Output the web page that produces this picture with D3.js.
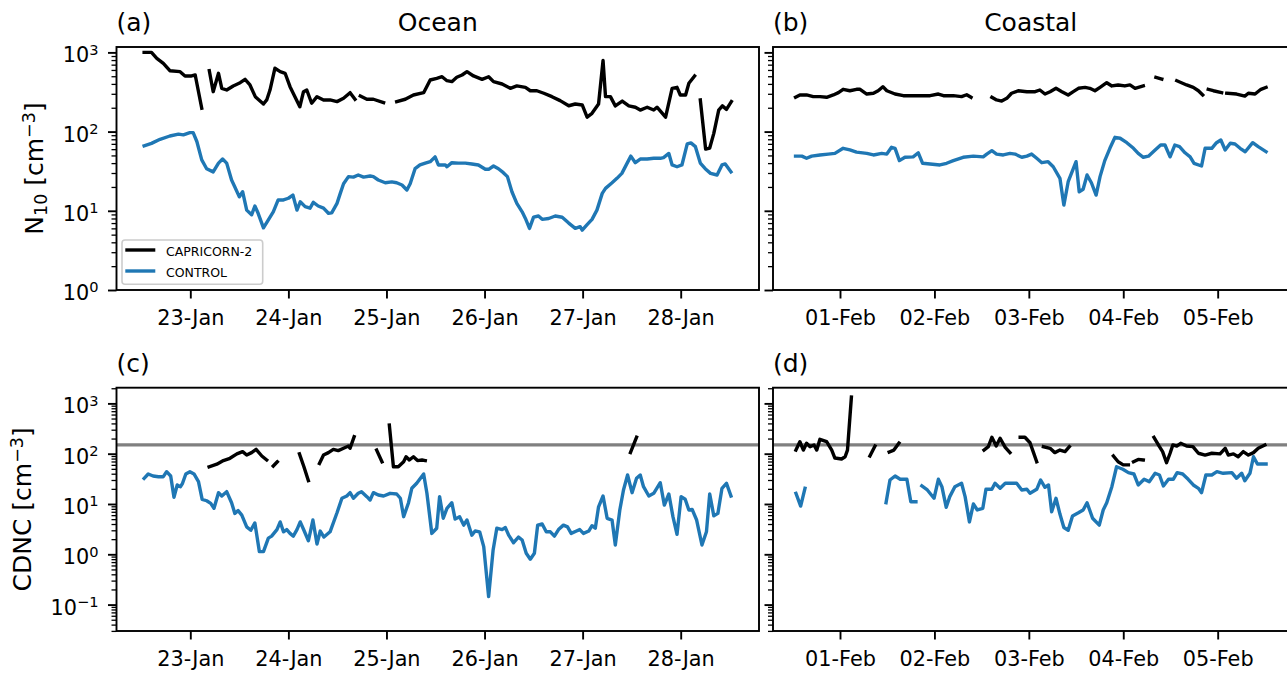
<!DOCTYPE html>
<html>
<head>
<meta charset="utf-8">
<script src="https://cdn.jsdelivr.net/npm/d3@7"></script>
<style>
  body { margin: 0; background: #fff; }
</style>
</head>
<body>
<div id="chart"></div>
<script>
// Time axis: hours after the start day (ocean leg from 22-Jan, coastal leg from 31-Jan)
const oceanStart = Date.UTC(2018, 0, 22);
const coastalStart = Date.UTC(2018, 0, 31);

// Series as [hour, value]; null marks a gap in the record
const oceanN10Capricorn = [[12.7,1000],[14.5,1000],[15.8,842],[17.4,728],[19.0,587],[21.5,571],[22.7,504],[24.3,504],[25.2,518],[26.8,197],[27.8,null],[28.65,587],[29.6,319],[30.9,545],[31.7,352],[32.9,335],[34.5,377],[36.2,414],[37.4,457],[38.6,388],[39.9,276],[41.9,223],[42.7,251],[43.5,335],[44.7,630],[46.0,571],[47.2,545],[48.4,369],[49.6,276],[50.8,206],[51.7,319],[52.5,335],[53.7,228],[55.0,276],[56.6,251],[58.2,251],[59.9,239],[61.5,263],[63.1,310],[64.3,256],[65.0,null],[65.6,281],[67.2,256],[68.8,256],[71.3,232],[72.5,null],[74.5,239],[76.6,256],[78.6,290],[81.1,310],[82.7,448],[84.3,471],[85.6,493],[86.8,439],[88.0,427],[89.2,485],[90.5,518],[91.7,571],[93.3,504],[95.4,457],[97.0,493],[98.2,427],[100.3,399],[102.3,352],[103.9,377],[106.0,362],[107.2,328],[108.8,328],[110.5,305],[112.5,276],[114.5,246],[116.6,212],[118.2,223],[119.9,217],[121.1,152],[122.3,170],[123.9,223],[125.0,790],[125.6,276],[126.8,276],[128.0,211],[129.7,243],[131.3,211],[132.9,203],[134.1,187],[135.8,203],[137.4,187],[138.2,203],[140.3,152],[141.9,352],[143.1,362],[143.9,290],[145.2,290],[146.0,407],[147.4,504],[148.2,null],[148.8,251],[150.1,60],[151.1,62],[152.1,95],[153.3,187],[154.2,211],[155.2,191],[156.4,239]];

const oceanN10Control = [[12.7,66],[14.5,71],[16.6,80],[19.0,88],[21.1,93],[22.3,91],[23.9,97],[24.7,97],[25.6,75],[26.8,44],[28.0,34],[29.6,31],[30.9,40],[31.9,45],[32.9,40],[34.1,24.5],[34.9,20],[36.0,15],[36.8,17.4],[37.8,10.2],[39.0,8.9],[39.8,11.5],[40.6,9.3],[41.9,6.1],[43.1,7.7],[44.3,9.7],[45.5,13.7],[46.8,13.7],[48.0,14.4],[49.1,15.8],[50.1,10.2],[50.9,13],[52.1,11.3],[53.3,10.8],[54.1,12.8],[55.3,11.5],[56.6,10.8],[57.8,9.3],[58.6,9.4],[59.9,12.4],[60.7,16.6],[61.5,22],[62.7,27],[63.9,26.6],[65.1,28.3],[66.4,26.6],[68.0,27.5],[68.8,27],[70.0,24.5],[71.7,22.6],[73.3,23.2],[74.5,22.6],[75.8,21.2],[77.0,18.3],[77.8,22],[79.0,34],[80.2,37.9],[81.5,40],[82.7,41.7],[83.9,48],[84.7,37.9],[86.4,37.9],[86.8,36],[88.0,40.5],[89.6,40],[91.3,40],[92.9,39],[94.5,37.9],[96.2,33.4],[97.0,33.4],[98.2,36.8],[99.4,34],[100.6,30.3],[101.6,27],[102.7,17.4],[103.9,12.4],[105.2,9.7],[106.0,8],[107.0,6],[108.0,8.3],[109.2,8.6],[110.1,7.8],[111.7,8],[113.3,8.6],[115.0,8.3],[116.6,7],[118.2,6],[119.4,6.3],[119.9,5.7],[121.1,6.7],[122.3,7.8],[123.5,10.2],[124.8,16.6],[125.6,19.2],[127.2,22.6],[128.4,25.7],[129.6,29.7],[130.9,40],[131.8,49],[132.9,40.5],[134.1,45],[135.8,45],[137.4,46],[139.0,46],[139.8,47],[141.1,53],[141.9,37.9],[143.1,36],[144.3,37.9],[145.6,70],[146.5,72],[147.6,64.5],[148.8,40],[150.0,34],[151.3,29.7],[152.9,28.3],[154.1,37.9],[154.9,39],[156.3,31]];

const coastalN10Capricorn = [[12.7,271],[13.8,290],[15.5,290],[17.2,276],[18.9,276],[20.6,271],[22.3,290],[23.6,310],[24.8,342],[26.5,328],[28.2,342],[29.1,342],[30.8,298],[32.5,305],[33.7,328],[34.9,369],[35.9,328],[38.0,298],[40.1,284],[43.5,284],[46.9,284],[49.0,298],[50.3,284],[52.8,284],[54.9,276],[56.2,292],[57.3,271],[60,null],[62.6,271],[63.8,251],[65.1,243],[66.4,263],[67.6,305],[69.3,328],[71.5,319],[73.6,319],[74.8,335],[76.1,298],[77.4,319],[78.9,352],[80.4,319],[82.0,290],[83.3,319],[84.6,352],[86.3,362],[87.5,352],[88.8,328],[90.1,362],[91.8,414],[93.1,377],[94.7,388],[96.4,377],[97.7,388],[99.0,352],[101.1,377],[102.5,null],[104.3,485],[105.8,461],[107.5,null],[109.6,439],[112.1,388],[113.8,362],[115.1,328],[116.2,290],[116.9,null],[117.6,342],[118.9,328],[121.0,310],[121.6,null],[122.3,305],[124.8,298],[126.9,281],[127.8,305],[129.5,298],[131.0,342],[132.3,362]];

const coastalN10Control = [[12.7,49],[14.3,49],[15.5,46],[16.8,49],[18.9,50.7],[21.0,52],[22.7,53],[24.8,61.5],[26.5,58.6],[28.2,55],[30.8,53],[32.5,50.7],[34.6,53],[35.9,52],[37.1,63.4],[38.0,61.5],[39.1,43],[40.5,47.4],[42.6,48],[43.9,54],[45.0,39.8],[46.9,39],[49.4,37.9],[51.1,39.8],[52.8,43],[55.3,47.4],[57.9,49],[60.4,48],[61.3,52],[62.6,57.4],[63.8,52],[65.5,50.7],[67.2,53],[68.5,52],[70.2,47.4],[71.5,49],[72.7,52],[74.0,46],[75.3,40.5],[76.9,41.7],[78.2,36],[79.9,25.7],[80.9,11.8],[82.0,23.3],[84.0,41.7],[84.8,17.4],[85.8,18.7],[86.8,28.3],[87.9,22.6],[89.1,15.8],[90.1,27],[91.3,43],[92.6,61.5],[93.9,84.7],[95.2,82.3],[96.9,72.4],[98.6,61.5],[99.8,53],[101.1,47.4],[102.4,49],[104.1,58.6],[105.5,67.7],[106.6,67.7],[107.9,48],[109.1,67.7],[110.3,64.5],[111.7,54],[113.0,48],[114.0,39.8],[115.9,36.8],[116.8,61.5],[118.5,61.5],[119.7,72.4],[120.8,78.3],[121.9,58.6],[123.2,71.2],[124.4,69.7],[125.7,61.5],[127.0,55.7],[128.9,72.4],[130.3,64.5],[132.3,55.7]];

const oceanCdncCapricorn = [[28.6,55],[30.5,62],[32.1,73],[33.7,81],[35.4,99],[36.8,110],[37.8,94],[39.0,105],[40.1,122],[41.5,90],[42.7,75],[43.5,null],[44.3,57],[45.3,69],[47,null],[50.7,99],[51.8,55],[52.9,29],[54,null],[55.6,64],[56.6,94],[57.8,105],[59.0,122],[60.2,115],[61.5,128],[62.7,142],[63.1,128],[64.1,218],[68,null],[69.6,118],[70.9,69],[71.8,null],[72.7,372],[73.7,55],[74.9,55],[76.2,69],[76.8,87],[77.6,75],[78.6,87],[79.6,73],[80.7,75],[81.5,73],[100,null],[131.7,105],[133.2,212]];

const oceanCdncControl = [[12.7,32.4],[13.7,39.5],[14.9,36],[16.2,34.9],[17.4,34.9],[18.2,43.9],[19.2,36],[20.0,13.6],[20.8,23.9],[21.6,22.1],[22.1,25.8],[22.9,39.5],[23.9,43.9],[24.9,39.5],[26.0,27.8],[26.9,12.4],[28.0,11.6],[29.0,10.3],[29.8,8.2],[30.9,16.8],[31.7,14.4],[32.9,17.6],[34.1,10.6],[34.9,6.5],[35.7,7.4],[36.6,6.0],[37.8,3.5],[38.8,3.0],[39.8,4.2],[40.9,1.13],[41.9,1.13],[43.1,2.1],[43.9,2.3],[45.2,3.1],[46.0,4.4],[46.8,2.8],[47.6,3.1],[48.4,2.6],[49.2,2.3],[50.1,3.1],[50.9,4.4],[51.8,3.0],[52.9,1.86],[54.0,4.8],[55.0,1.6],[55.8,2.9],[56.7,2.2],[58.2,2.8],[59.9,6.7],[61.1,13],[62.3,14.4],[63.1,16.8],[63.9,13],[65.1,16.3],[65.9,17.6],[67.2,14],[68.0,12],[68.8,16.8],[70.0,15.1],[71.3,14.4],[72.9,16.3],[74.5,15.8],[75.4,13],[76.2,5.6],[77.4,10.6],[78.2,20.5],[79.4,25.8],[81.1,39.5],[81.9,16.3],[83.1,2.6],[84.3,3.3],[85.0,14],[85.9,5.2],[86.8,8.2],[88.0,10.6],[88.8,5.0],[89.9,5.6],[90.9,3.8],[91.7,4.8],[92.9,2.4],[93.7,2.9],[94.8,2.8],[95.8,1.42],[97.0,0.144],[98.1,1.22],[99.0,3.3],[100.3,3.1],[101.1,3.4],[101.9,2.4],[103.1,1.7],[104.3,2.2],[105.2,1.92],[106.2,1.05],[107.2,0.80],[108.2,1.05],[109.0,3.8],[110.1,4.0],[111.1,2.8],[112.1,2.8],[113.1,2.3],[114.1,3.1],[115.3,3.8],[116.3,3.5],[117.2,2.6],[118.5,2.9],[119.3,3.1],[120.2,2.6],[121.5,2.9],[122.3,3.7],[123.1,3.3],[123.9,8.8],[125.0,14.4],[126.0,5.2],[127.2,4.8],[128.0,1.53],[129.1,7.6],[130.0,19],[131.0,37.7],[132.1,16.8],[133.2,32.4],[134.1,37.7],[134.9,22.1],[136.2,14.4],[137.4,16.3],[139.0,26.5],[140.0,9.5],[141.1,15.8],[142.1,5.6],[143.1,2.5],[144.1,14],[145.1,12.4],[146.0,7.6],[146.8,7.8],[147.9,4.8],[149.2,1.53],[150.3,2.8],[151.1,15.8],[152.1,5.8],[153.1,6.5],[154.1,20.5],[155.2,25.8],[156.3,14.4]];

const coastalCdncCapricorn = [[12.8,118],[13.8,173],[14.7,118],[15.5,161],[16.4,138],[17.4,149],[18.1,118],[18.9,193],[20.6,173],[21.9,118],[22.7,82],[24.4,78.5],[25.3,87],[25.9,118],[26.9,1340],[28,null],[31.6,90],[32.9,142],[33.5,null],[36.5,108],[37.7,118],[39.0,163],[45,null],[60.6,118],[61.7,138],[62.6,212],[63.7,142],[64.7,202],[66.0,134],[67.2,105],[68,null],[69.8,212],[71.0,212],[72.3,165],[73.1,110],[74.0,69],[74.8,null],[75.7,138],[77.4,128],[78.6,105],[79.9,118],[81.2,110],[82.3,138],[90,null],[93.5,90],[94.7,69],[96.0,60],[97.3,60],[97.9,null],[98.6,69],[99.8,77],[101.1,75],[102,null],[103.8,212],[105.2,138],[106.0,110],[107.0,66],[107.9,102],[108.6,149],[109.6,142],[110.6,161],[112.1,142],[113.7,138],[115.1,102],[116.8,94],[118.5,102],[120.6,99],[121.9,128],[122.7,94],[124.0,99],[125.2,87],[126.5,110],[127.8,94],[129.1,105],[130.3,128],[132.0,149]];

const coastalCdncControl = [[12.8,16.3],[14.0,9.1],[15.1,20.5],[20,null],[35.7,10.6],[36.7,30],[38.0,36],[39.3,31],[41.0,31],[42.0,11.1],[43.3,11.1],[44,null],[44.8,22.8],[46.2,19],[47.9,13],[49.0,31],[49.9,22.1],[51.0,8.6],[51.9,14],[53.2,22.1],[54.9,25.8],[55.8,14],[56.9,4.4],[57.9,10],[58.9,7.6],[60.3,8.2],[61.1,19.6],[62.6,19.6],[63.4,25.8],[64.7,20.5],[66.0,25.8],[68.9,25.8],[70.2,19],[71.5,19.6],[72.3,16.3],[74.0,19.6],[75.0,30],[76.1,21.5],[77.0,23.9],[77.8,7.0],[78.9,13],[79.9,6.3],[80.9,3.4],[82.0,3.0],[83.1,5.8],[84.6,6.7],[85.8,7.6],[86.8,10.6],[88.2,5.2],[89.9,3.8],[90.9,7.6],[91.8,10.6],[93.1,22.1],[94.3,55],[95.9,49],[97.3,42],[98.7,39.5],[99.8,23.9],[101.3,31],[102.6,27.8],[104.1,40.8],[105.2,37.7],[106.2,22.8],[107.5,31],[108.7,31],[109.7,42],[111.1,39.5],[112.5,31],[113.8,23.9],[115.1,20.5],[115.9,16.8],[117.0,37.7],[118.5,37.7],[119.8,43.9],[121.4,40.8],[123.6,42],[124.8,32.4],[126.1,40.8],[126.9,29],[128.2,40.8],[129.1,87],[130.1,62.4],[132.3,62.4]];

const seriesNames = ["CAPRICORN-2", "CONTROL"];
const seriesColors = ["#000000", "#1f77b4"];
const panelTags = ["(a)", "(b)", "(c)", "(d)"];
const columnTitles = ["Ocean", "Coastal"];
const cdncReference = 150;

const toDate = (base, h) => new Date(base + h * 3600e3);

const width = 1287, height = 673;
const fontFamily = "'DejaVu Sans', sans-serif";
const lineWidth = 3.4;

const svg = d3.select("#chart").append("svg")
    .attr("width", width)
    .attr("height", height)
    .style("font-family", fontFamily);

// Panel frames (pixels) and axis extents
const cols = [
    {xr: [116.5, 759], base: oceanStart, hours: [5.94, 163.16]},
    {xr: [773, 1288.5], base: coastalStart, hours: [6.97, 138.0]}
];
const rows = [
    {yr: [47, 290], logDomain: [0, 3.068]},
    {yr: [387.7, 631], logDomain: [-1.525, 3.312]}
];

const panels = [
    {tag: 0, col: 0, row: 0, series: [oceanN10Capricorn, oceanN10Control]},
    {tag: 1, col: 1, row: 0, series: [coastalN10Capricorn, coastalN10Control]},
    {tag: 2, col: 0, row: 1, series: [oceanCdncCapricorn, oceanCdncControl]},
    {tag: 3, col: 1, row: 1, series: [coastalCdncCapricorn, coastalCdncControl]}
];

// "10" with a superscript exponent, like matplotlib log labels
function powerLabel(sel, exp) {
    sel.append("tspan").text("10");
    sel.append("tspan")
        .attr("dy", -7.7)
        .style("font-size", "14.6px")
        .text(exp < 0 ? "\u2212" + Math.abs(exp) : exp);
}

panels.forEach(function(p) {
    const c = cols[p.col], r = rows[p.row];
    const x = d3.scaleUtc()
        .domain([toDate(c.base, c.hours[0]), toDate(c.base, c.hours[1])])
        .range(c.xr);
    const y = d3.scaleLog()
        .domain([Math.pow(10, r.logDomain[0]), Math.pow(10, r.logDomain[1])])
        .range([r.yr[1], r.yr[0]]);

    const g = svg.append("g");
    const clipId = "clip-" + p.tag;
    g.append("clipPath").attr("id", clipId)
        .append("rect")
        .attr("x", c.xr[0]).attr("y", r.yr[0])
        .attr("width", c.xr[1] - c.xr[0]).attr("height", r.yr[1] - r.yr[0]);

    const plot = g.append("g").attr("clip-path", `url(#${clipId})`);

    // Reference CDNC line in the bottom row
    if (p.row === 1) {
        plot.append("line")
            .attr("x1", c.xr[0]).attr("x2", c.xr[1])
            .attr("y1", y(cdncReference)).attr("y2", y(cdncReference))
            .attr("stroke", "#808080")
            .attr("stroke-width", lineWidth);
    }

    const line = d3.line()
        .defined(d => d[1] != null)
        .x(d => x(toDate(c.base, d[0])))
        .y(d => y(d[1]));

    // control first, campaign on top
    [1, 0].forEach(function(i) {
        plot.append("path")
            .datum(p.series[i])
            .attr("d", line)
            .attr("fill", "none")
            .attr("stroke", seriesColors[i])
            .attr("stroke-width", lineWidth)
            .attr("stroke-linejoin", "round")
            .attr("stroke-linecap", "square");
    });

    // Spines
    g.append("rect")
        .attr("x", c.xr[0]).attr("y", r.yr[0])
        .attr("width", c.xr[1] - c.xr[0]).attr("height", r.yr[1] - r.yr[0])
        .attr("fill", "none")
        .attr("stroke", "#000")
        .attr("stroke-width", 1.9);

    // X axis with daily ticks
    const xAxis = g.append("g")
        .attr("transform", `translate(0,${r.yr[1]})`)
        .call(d3.axisBottom(x)
            .ticks(d3.utcDay.every(1))
            .tickFormat(d3.utcFormat("%d-%b"))
            .tickSize(8.5)
            .tickPadding(12)
            .tickSizeOuter(0));
    xAxis.select(".domain").remove();
    xAxis.selectAll("line").attr("stroke-width", 1.9);
    xAxis.selectAll("text")
        .attr("font-family", fontFamily)
        .style("font-size", "20.8px")
        .attr("fill", "#000");

    // Log y ticks: majors at decades, minors at 2..9
    const lo = Math.floor(r.logDomain[0]), hi = Math.ceil(r.logDomain[1]);
    const majors = [], minors = [];
    for (let d = lo; d <= hi; d++) {
        const v = Math.pow(10, d);
        if (d >= r.logDomain[0] && d <= r.logDomain[1]) majors.push(d);
        for (let k = 2; k <= 9; k++) {
            const m = Math.log10(k * v);
            if (m >= r.logDomain[0] && m <= r.logDomain[1]) minors.push(k * v);
        }
    }
    const yMinor = g.append("g")
        .attr("transform", `translate(${c.xr[0]},0)`)
        .call(d3.axisLeft(y).tickValues(minors).tickFormat(() => "").tickSize(5).tickSizeOuter(0));
    yMinor.select(".domain").remove();
    yMinor.selectAll("line").attr("stroke-width", 1.3);

    const yMajor = g.append("g")
        .attr("transform", `translate(${c.xr[0]},0)`)
        .call(d3.axisLeft(y).tickValues(majors.map(d => Math.pow(10, d))).tickFormat(() => "").tickSize(8.5).tickSizeOuter(0));
    yMajor.select(".domain").remove();
    yMajor.selectAll("line").attr("stroke-width", 1.9);

    if (p.col === 0) {
        majors.forEach(function(d) {
            const t = g.append("text")
                .attr("x", c.xr[0] - 18)
                .attr("y", y(Math.pow(10, d)) + 10)
                .attr("text-anchor", "end")
                .style("font-size", "20.8px");
            powerLabel(t, d);
        });
    }

    // Panel tag and column title
    g.append("text")
        .attr("x", c.xr[0])
        .attr("y", r.yr[0] - 15.7)
        .style("font-size", "25px")
        .text(panelTags[p.tag]);
    if (p.row === 0) {
        g.append("text")
            .attr("x", (c.xr[0] + c.xr[1]) / 2)
            .attr("y", r.yr[0] - 15.7)
            .attr("text-anchor", "middle")
            .style("font-size", "25px")
            .text(columnTitles[p.col]);
    }
});

// Y axis labels with sub/superscripts
function unitLabel(xBase, yMid, name, sub) {
    const t = svg.append("text")
        .attr("transform", `translate(${xBase},${yMid}) rotate(-90)`)
        .attr("text-anchor", "middle")
        .style("font-size", "25px");
    t.append("tspan").text(name);
    if (sub) {
        t.append("tspan").attr("dy", 4).style("font-size", "17.5px").text(sub);
        t.append("tspan").attr("dy", -4).text(" [cm");
    } else {
        t.append("tspan").text(" [cm");
    }
    t.append("tspan").attr("dy", -8).style("font-size", "17.5px").text("\u22123");
    t.append("tspan").attr("dy", 8).text("]");
}
unitLabel(42.7, (rows[0].yr[0] + rows[0].yr[1]) / 2, "N", "10");
unitLabel(30.7, (rows[1].yr[0] + rows[1].yr[1]) / 2, "CDNC", null);

// Legend in panel (a)
const legend = svg.append("g");
legend.append("rect")
    .attr("x", 122).attr("y", 240)
    .attr("width", 140.7).attr("height", 44.3)
    .attr("rx", 3)
    .attr("fill", "#fff").attr("fill-opacity", 0.8)
    .attr("stroke", "#cccccc").attr("stroke-width", 1.6);
seriesNames.forEach(function(name, i) {
    const ly = 250 + i * 21;
    legend.append("line")
        .attr("x1", 125.3).attr("x2", 155.3)
        .attr("y1", ly).attr("y2", ly)
        .attr("stroke", seriesColors[i])
        .attr("stroke-width", lineWidth);
    legend.append("text")
        .attr("x", 166).attr("y", ly + 1)
        .attr("dominant-baseline", "central")
        .style("font-size", "12.5px")
        .text(name);
});
</script>
</body>
</html>
